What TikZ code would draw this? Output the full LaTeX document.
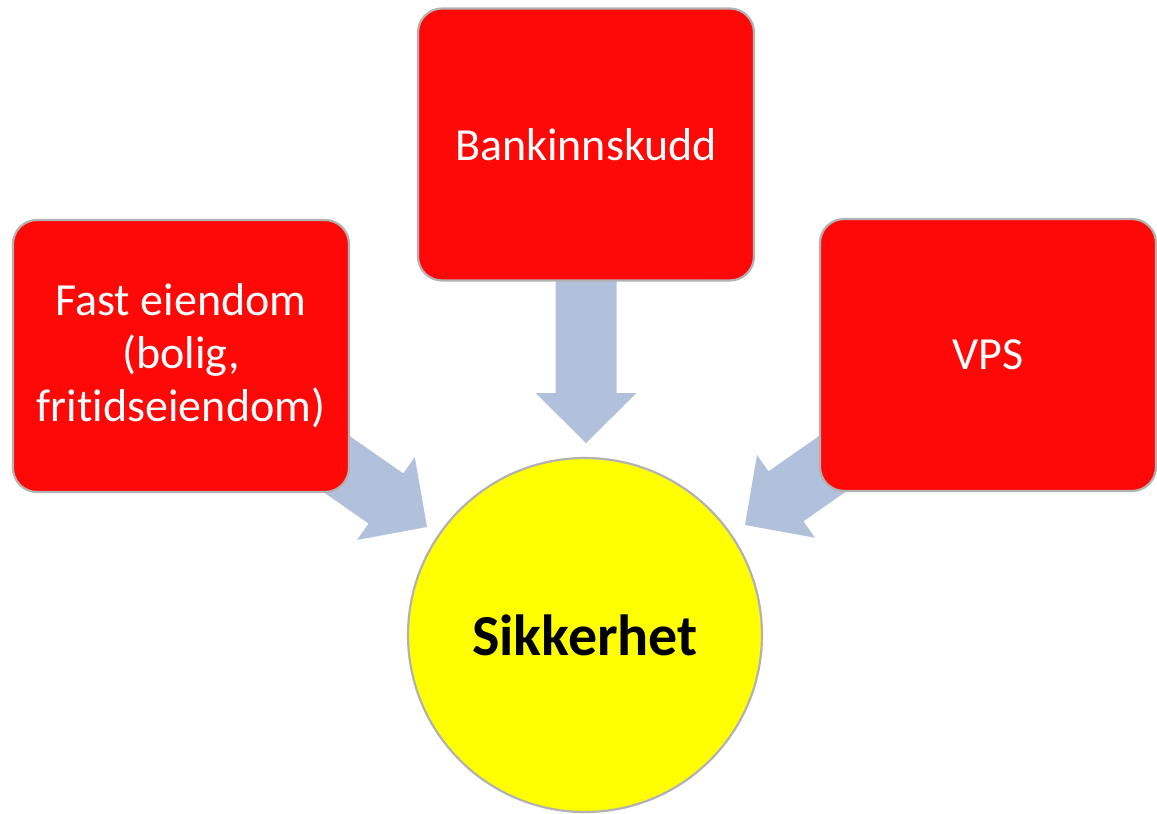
\documentclass[tikz,border=0pt]{standalone}
\usepackage{fontspec}
\setmainfont{Carlito}[RawFeature={-liga}]
\usetikzlibrary{calc,backgrounds}
\definecolor{boxred}{RGB}{255,8,8}
\definecolor{boxyellow}{RGB}{255,255,0}
\definecolor{arrowblue}{RGB}{177,193,220}
\tikzset{
  redbox/.style={rectangle, rounded corners=24pt, fill=boxred, draw=black!30, line width=2.2pt,
    minimum width=336pt, minimum height=272pt, text=white, align=center,
    font=\fontsize{46}{53}\selectfont, inner sep=0pt},
  yellowcircle/.style={circle, fill=boxyellow, draw=black!30, line width=2.2pt,
    minimum size=354pt, inner sep=0pt, font=\fontsize{58}{66}\selectfont\bfseries, text=black},
  arrowfill/.style={fill=arrowblue}
}
\newcommand\blockarrow[2]{%
  \coordinate (ahead) at ($(#2)!50pt!(#1)$);
  \fill[arrowfill] ($(#1)!30.5pt!90:(#2)$) -- ($(ahead)!30.5pt!90:(#2)$) -- ($(ahead)!50.5pt!90:(#2)$)
    -- (#2) -- ($(ahead)!50.5pt!-90:(#2)$) -- ($(ahead)!30.5pt!-90:(#2)$) -- ($(#1)!30.5pt!-90:(#2)$) -- cycle;}
\begin{document}
\begin{tikzpicture}[x=1pt,y=-1pt]
\useasboundingbox (0,0) rectangle (1157,814);
\node[redbox] (fast) at (181,356) {Fast eiendom\\(bolig,\\fritidseiendom)};
\node[redbox] (bank) at (586,144.5) {Bankinnskudd};
\node[redbox] (vps) at (988,355) {VPS};
\node[yellowcircle] (sik) at (585,635) {Sikkerhet};
\coordinate (tipL) at (427,527);
\coordinate (tipM) at (586,443);
\coordinate (tipR) at (745,525);
\begin{scope}[on background layer]
  \blockarrow{fast.center}{tipL}
  \blockarrow{bank.center}{tipM}
  \blockarrow{vps.center}{tipR}
\end{scope}
\end{tikzpicture}
\end{document}
